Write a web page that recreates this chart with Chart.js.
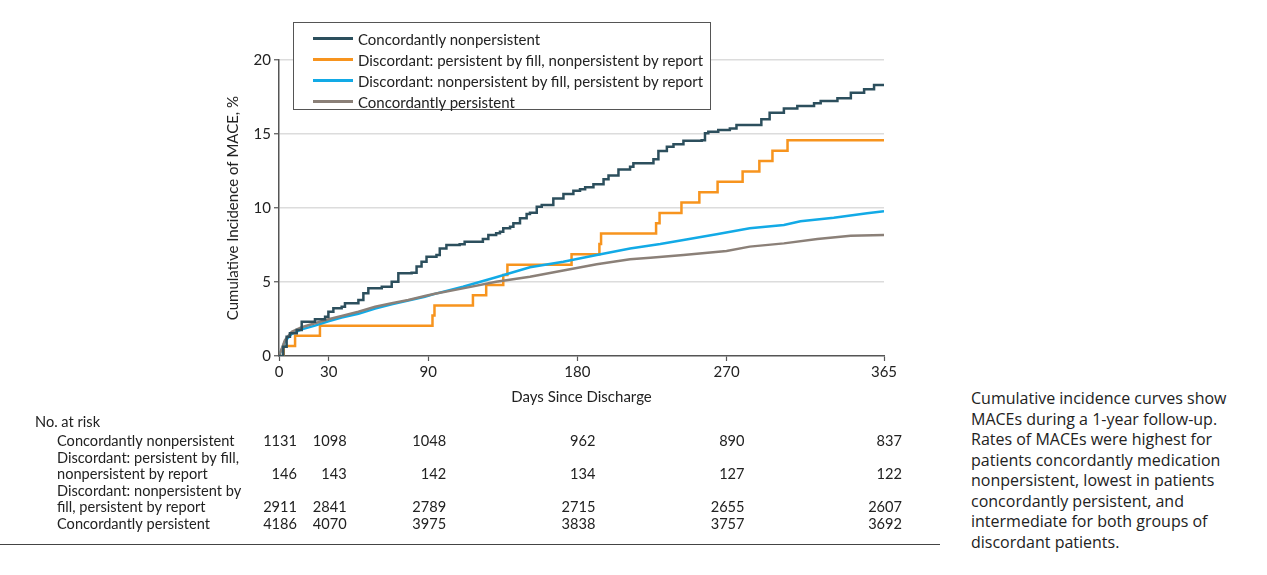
<!DOCTYPE html>
<html>
<head>
<meta charset="utf-8">
<script src="https://cdn.jsdelivr.net/npm/chart.js@4.4.1/dist/chart.umd.min.js"></script>
<style>
  html, body { margin: 0; padding: 0; background: #fff; }
  body { width: 1267px; height: 575px; position: relative; overflow: hidden; }
  #wrap { position: absolute; left: 0; top: 0; width: 940px; height: 575px; }
  #legend { position: absolute; left: 293px; top: 22px; width: 418px; height: 88px;
    border: 1px solid #555; background: #fff; font-family: Lato, sans-serif; font-size: 15px; color: #222;
    box-sizing: border-box; padding-top: 5px; }
  .li { height: 21px; display: flex; align-items: center; }
  .sw { width: 40px; height: 2.5px; margin-left: 19px; margin-right: 5px; }
  #caption { position: absolute; left: 971px; top: 388px; width: 296px; font-family: "Open Sans", sans-serif;
    font-size: 16px; line-height: 20.5px; color: #222; white-space: nowrap; }
  #rule { position: absolute; left: 0; top: 544px; width: 940px; height: 0; border-top: 1.5px solid #444; }
</style>
</head>
<body>
<div id="wrap"><canvas id="c" width="940" height="575"></canvas></div>
<div id="legend"></div>
<div id="caption">Cumulative incidence curves show<br>MACEs during a 1-year follow-up.<br>Rates of MACEs were highest for<br>patients concordantly medication<br>nonpersistent, lowest in patients<br>concordantly persistent, and<br>intermediate for both groups of<br>discordant patients.</div>
<div id="rule"></div>
<script>
// ---------- data ----------
const xTicks = [0, 30, 90, 180, 270, 365];
const seriesNames = [
  "Concordantly nonpersistent",
  "Discordant: persistent by fill, nonpersistent by report",
  "Discordant: nonpersistent by fill, persistent by report",
  "Concordantly persistent"
];
const seriesColors = ["#2c4f5d", "#f7941e", "#12aae6", "#8b8078"];

// Concordantly nonpersistent (step curve)
const cnDays = [0, 2.6, 4.6, 6.6, 10.7, 13.7, 21.7, 27.8, 29.8, 32.8, 37.8, 39.8, 47.9, 50.9, 53.9, 62, 68, 72, 80, 83, 86, 89, 95, 97, 101, 109, 112, 123, 126.3, 131, 133.3, 135.3, 139.4, 141.4, 145.4, 149.4, 151.4, 155.5, 158.5, 165.5, 171.6, 177.6, 181.6, 184.7, 189.7, 195.8, 198.8, 204.8, 211.8, 213.8, 225.9, 228.9, 234, 238, 244, 255, 257, 259, 265, 272, 276, 288, 291, 296, 304.6, 312.7, 322.8, 326.8, 336.9, 345, 353, 359, 365];
const cnPct  = [0, 0.63, 1.3, 1.53, 1.76, 2.32, 2.48, 2.66, 2.99, 3.22, 3.33, 3.56, 3.78, 4.24, 4.57, 4.68, 5.02, 5.59, 5.63, 6.04, 6.37, 6.71, 6.82, 7.27, 7.5, 7.55, 7.72, 7.9, 8.18, 8.29, 8.4, 8.63, 8.74, 8.97, 9.3, 9.6, 9.68, 10.09, 10.2, 10.65, 10.95, 11.17, 11.26, 11.4, 11.6, 11.94, 12.2, 12.6, 12.79, 13.02, 13.29, 13.85, 14.14, 14.3, 14.55, 14.58, 15.05, 15.16, 15.27, 15.38, 15.6, 15.6, 15.99, 16.44, 16.73, 16.89, 17.07, 17.23, 17.41, 17.79, 18.02, 18.31, 18.31];

// Discordant: persistent by fill, nonpersistent by report (step curve)
const dpDays = [0, 2.8, 9.7, 24.7, 92.6, 93.8, 117, 125, 135.3, 137.8, 176.5, 193.3, 194.3, 227.5, 229.6, 242.8, 253.6, 264.6, 279.7, 289.8, 297.7, 306.8, 365];
const dpPct  = [0, 0.68, 1.37, 2.05, 2.74, 3.42, 4.11, 4.8, 5.48, 6.17, 6.87, 7.57, 8.27, 8.97, 9.67, 10.37, 11.07, 11.77, 12.47, 13.17, 13.87, 14.57, 14.57];

// Discordant: nonpersistent by fill, persistent by report
const dnDays = [0, 3.6, 7.7, 13.7, 21.7, 29.8, 37.8, 47.9, 58, 68, 78, 88, 94, 111, 131, 151.4, 171.5, 191.7, 211.8, 230, 244, 264, 284, 304.6, 314.6, 334.7, 354.8, 365];
const dnPct  = [0, 1.0, 1.5, 1.8, 2.05, 2.35, 2.6, 2.85, 3.2, 3.5, 3.75, 4.0, 4.2, 4.68, 5.32, 6.0, 6.37, 6.82, 7.27, 7.57, 7.84, 8.22, 8.63, 8.85, 9.1, 9.34, 9.64, 9.78];

// Concordantly persistent
const cpDays = [0, 3.6, 7.7, 13.7, 21.7, 29.8, 37.8, 47.9, 58, 68, 78, 88, 94, 111, 131, 151.4, 171.5, 191.7, 211.8, 224, 244, 270, 284, 304.6, 324.8, 344.9, 365];
const cpPct  = [0, 1.08, 1.64, 1.94, 2.21, 2.48, 2.7, 2.99, 3.33, 3.56, 3.78, 4.05, 4.2, 4.57, 5.02, 5.36, 5.77, 6.2, 6.53, 6.64, 6.82, 7.09, 7.39, 7.61, 7.9, 8.13, 8.18];

// Number at risk table
const riskTimes = [0, 30, 90, 180, 270, 365];
const riskRowLabels = [
  ["Concordantly nonpersistent"],
  ["Discordant: persistent by fill,", "nonpersistent by report"],
  ["Discordant: nonpersistent by", "fill, persistent by report"],
  ["Concordantly persistent"]
];
const riskCN = [1131, 1098, 1048, 962, 890, 837];
const riskDP = [146, 143, 142, 134, 127, 122];
const riskDN = [2911, 2841, 2789, 2715, 2655, 2607];
const riskCP = [4186, 4070, 3975, 3838, 3757, 3692];
const riskRows = [riskCN, riskDP, riskDN, riskCP];

// ---------- build ----------
function pts(d, v) { return d.map((x, i) => ({ x: x, y: v[i] })); }
const FONT = "Lato, sans-serif";
const TXT = "#222";

// legend
const lg = document.getElementById('legend');
seriesNames.forEach((n, i) => {
  const r = document.createElement('div'); r.className = 'li';
  const s = document.createElement('div'); s.className = 'sw'; s.style.background = seriesColors[i];
  const t = document.createElement('span'); t.textContent = n;
  r.appendChild(s); r.appendChild(t); lg.appendChild(r);
});

const riskPlugin = {
  id: 'riskTable',
  afterDraw(chart) {
    const ctx = chart.ctx, xs = chart.scales.x;
    ctx.save();
    ctx.fillStyle = TXT;
    ctx.font = "14.6px " + FONT;
    ctx.textBaseline = 'middle';
    ctx.textAlign = 'left';
    ctx.fillText("No. at risk", 35, 422);
    const rowY = [[441], [458, 474], [491, 507], [524]];
    riskRowLabels.forEach((lines, r) => {
      lines.forEach((ln, k) => { ctx.textAlign = 'left'; ctx.fillText(ln, 57, rowY[r][k]); });
      const y = rowY[r][rowY[r].length - 1];
      ctx.textAlign = 'right';
      riskRows[r].forEach((v, j) => {
        ctx.fillText(String(v), xs.getPixelForValue(riskTimes[j]) + 18, y);
      });
    });
    ctx.restore();
  }
};

new Chart(document.getElementById('c'), {
  type: 'line',
  data: {
    datasets: [
      { label: seriesNames[0], data: pts(cnDays, cnPct), borderColor: seriesColors[0], stepped: 'before', order: 0 },
      { label: seriesNames[1], data: pts(dpDays, dpPct), borderColor: seriesColors[1], stepped: 'before', order: 3 },
      { label: seriesNames[2], data: pts(dnDays, dnPct), borderColor: seriesColors[2], stepped: false, order: 2 },
      { label: seriesNames[3], data: pts(cpDays, cpPct), borderColor: seriesColors[3], stepped: false, order: 1 }
    ]
  },
  options: {
    responsive: false,
    animation: false,
    devicePixelRatio: 1,
    layout: { padding: { left: 224, right: 56, top: 60, bottom: 169 } },
    elements: { point: { radius: 0 }, line: { borderWidth: 2.5, tension: 0, borderCapStyle: 'butt', borderJoinStyle: 'miter' } },
    plugins: { legend: { display: false }, tooltip: { enabled: false } },
    scales: {
      x: {
        type: 'linear', min: 0, max: 365,
        afterBuildTicks: s => { s.ticks = xTicks.map(v => ({ value: v })); },
        afterFit: s => { s.height = 50; },
        grid: { drawOnChartArea: false, drawTicks: true, tickLength: 5, tickColor: '#555', tickWidth: 1.2 },
        border: { color: '#555', width: 1.5 },
        ticks: { color: TXT, font: { family: FONT, size: 15 }, padding: 2, maxRotation: 0, autoSkip: false },
        title: { display: true, text: 'Days Since Discharge', color: TXT, font: { family: FONT, size: 15 }, padding: 0 }
      },
      y: {
        min: 0, max: 20,
        ticks: { stepSize: 5, color: TXT, font: { family: FONT, size: 15 }, padding: 3 },
        afterFit: s => { s.width = 55; },
        grid: {
          color: c => (c.tick && c.tick.value === 0) ? 'rgba(0,0,0,0)' : '#dcdcdc',
          lineWidth: 1.5, tickLength: 5, tickColor: '#555', tickWidth: 1.2
        },
        border: { color: '#555', width: 1.5 },
        title: { display: true, text: 'Cumulative Incidence of MACE, %', color: TXT, font: { family: FONT, size: 15 }, padding: 0 }
      }
    }
  },
  plugins: [riskPlugin]
});
</script>
</body>
</html>
